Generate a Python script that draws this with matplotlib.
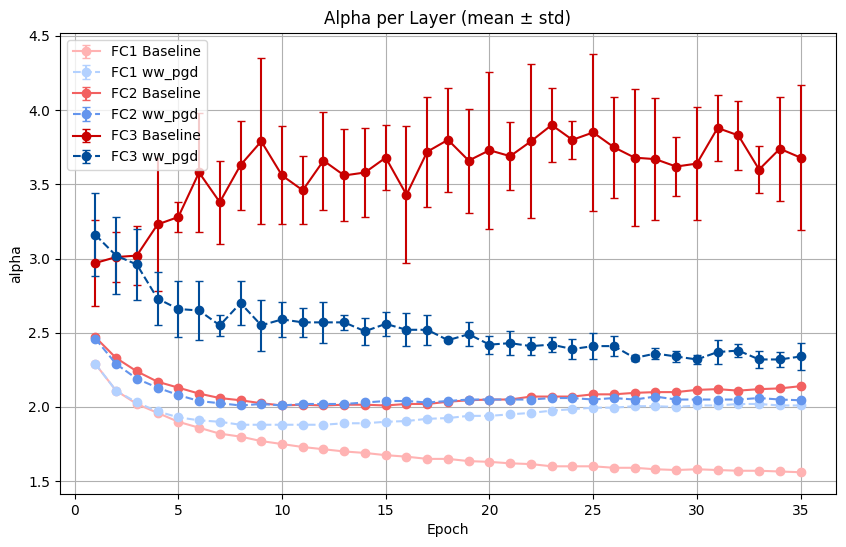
import numpy as np
import matplotlib
matplotlib.use("Agg")
import matplotlib.pyplot as plt

# values
epochs = np.arange(1, 36)

fc1_base_mean = [2.29, 2.11, 2.02, 1.96, 1.90, 1.86, 1.82, 1.80, 1.77, 1.75,
                 1.73, 1.715, 1.70, 1.69, 1.675, 1.665, 1.65, 1.65, 1.635, 1.63,
                 1.62, 1.615, 1.60, 1.60, 1.60, 1.59, 1.59, 1.58, 1.575, 1.58,
                 1.575, 1.57, 1.57, 1.565, 1.56]
fc1_base_std = [0.005] * 35

fc1_ww_mean = [2.29, 2.11, 2.03, 1.97, 1.93, 1.91, 1.90, 1.88, 1.88, 1.88,
               1.88, 1.88, 1.89, 1.89, 1.90, 1.905, 1.92, 1.925, 1.94, 1.94,
               1.95, 1.96, 1.975, 1.985, 1.995, 1.995, 2.005, 2.005, 2.00, 2.01,
               2.01, 2.02, 2.02, 2.01, 2.01]
fc1_ww_std = [0.005] * 35

fc2_base_mean = [2.47, 2.33, 2.24, 2.17, 2.13, 2.09, 2.06, 2.045, 2.025, 2.01,
                 2.015, 2.01, 2.015, 2.015, 2.01, 2.02, 2.02, 2.035, 2.045, 2.05,
                 2.05, 2.07, 2.07, 2.07, 2.085, 2.085, 2.095, 2.10, 2.10, 2.115,
                 2.12, 2.11, 2.12, 2.125, 2.14]
fc2_base_std = [0.005] * 35

fc2_ww_mean = [2.46, 2.29, 2.19, 2.13, 2.08, 2.04, 2.025, 2.01, 2.02, 2.01,
               2.02, 2.02, 2.02, 2.03, 2.04, 2.04, 2.03, 2.04, 2.05, 2.05,
               2.05, 2.05, 2.06, 2.06, 2.05, 2.06, 2.05, 2.07, 2.05, 2.05,
               2.05, 2.05, 2.06, 2.05, 2.045]
fc2_ww_std = [0.008] * 35

fc3_base_mean = [2.97, 3.01, 3.02, 3.23, 3.28, 3.58, 3.38, 3.63, 3.79, 3.56,
                 3.46, 3.66, 3.56, 3.58, 3.68, 3.43, 3.72, 3.80, 3.66, 3.73,
                 3.69, 3.79, 3.90, 3.80, 3.85, 3.75, 3.68, 3.67, 3.62, 3.64,
                 3.88, 3.83, 3.60, 3.74, 3.68]
fc3_base_std = [0.29, 0.17, 0.20, 0.45, 0.10, 0.40, 0.28, 0.30, 0.56, 0.33,
                0.23, 0.33, 0.31, 0.30, 0.22, 0.46, 0.37, 0.35, 0.35, 0.53,
                0.23, 0.52, 0.25, 0.13, 0.53, 0.34, 0.46, 0.41, 0.20, 0.38,
                0.22, 0.23, 0.16, 0.35, 0.49]

fc3_ww_mean = [3.16, 3.02, 2.96, 2.73, 2.66, 2.65, 2.55, 2.70, 2.55, 2.59,
               2.57, 2.57, 2.57, 2.51, 2.56, 2.52, 2.52, 2.45, 2.49, 2.42,
               2.43, 2.41, 2.42, 2.39, 2.41, 2.41, 2.33, 2.36, 2.34, 2.32,
               2.37, 2.38, 2.32, 2.32, 2.34]
fc3_ww_std = [0.28, 0.26, 0.24, 0.18, 0.19, 0.20, 0.07, 0.15, 0.17, 0.12,
              0.10, 0.14, 0.05, 0.09, 0.08, 0.11, 0.10, 0.01, 0.08, 0.06,
              0.08, 0.06, 0.05, 0.07, 0.09, 0.065, 0.02, 0.035, 0.035, 0.03,
              0.08, 0.045, 0.055, 0.05, 0.09]

series = [
    ("FC1 Baseline", fc1_base_mean, fc1_base_std, "#ffb3b3", "-"),
    ("FC1 ww_pgd", fc1_ww_mean, fc1_ww_std, "#b3d1ff", "--"),
    ("FC2 Baseline", fc2_base_mean, fc2_base_std, "#f26161", "-"),
    ("FC2 ww_pgd", fc2_ww_mean, fc2_ww_std, "#6495ed", "--"),
    ("FC3 Baseline", fc3_base_mean, fc3_base_std, "#c80000", "-"),
    ("FC3 ww_pgd", fc3_ww_mean, fc3_ww_std, "#004c99", "--"),
]

fig, ax = plt.subplots(figsize=(8.46, 5.47), dpi=100)
fig.subplots_adjust(left=0.071, right=0.988, top=0.94, bottom=0.097)

for name, mean, std, color, ls in series:
    ax.errorbar(epochs, mean, yerr=std, label=name, color=color,
                linestyle=ls, marker='o', capsize=3)

ax.set_title('Alpha per Layer (mean ± std)')
ax.set_xlabel('Epoch')
ax.set_ylabel('alpha')
ax.grid(True)
ax.legend(loc='upper left')

fig.savefig('out.png', dpi=100)
